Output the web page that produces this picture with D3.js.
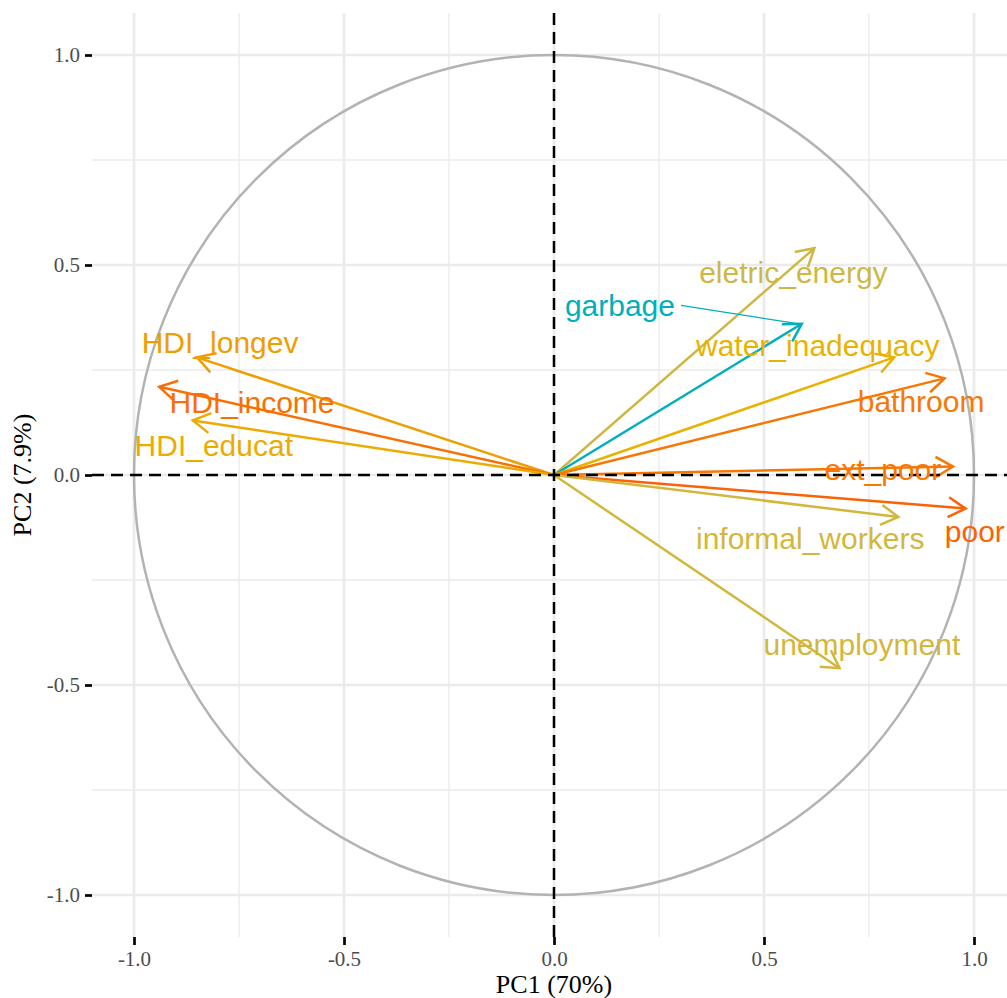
<!DOCTYPE html>
<html>
<head>
<meta charset="utf-8">
<script src="https://cdn.jsdelivr.net/npm/d3@7"></script>
<style>
  body { margin: 0; background: #fff; }
</style>
</head>
<body>
<svg id="chart" width="1007" height="998"></svg>
<script>
// loadings on the first two components
var variables = ['eletric_energy', 'garbage', 'water_inadequacy', 'bathroom', 'ext_poor',
  'poor', 'informal_workers', 'unemployment', 'HDI_longev', 'HDI_income', 'HDI_educat'];
var pc1 = [0.62, 0.59, 0.81, 0.93, 0.95, 0.98, 0.82, 0.68, -0.85, -0.94, -0.86];
var pc2 = [0.54, 0.36, 0.28, 0.23, 0.02, -0.08, -0.10, -0.46, 0.28, 0.21, 0.13];
var cos2 = [0.67, 0.48, 0.74, 0.91, 0.91, 0.96, 0.68, 0.68, 0.80, 0.93, 0.76];
// where the (repelled) labels ended up
var labelX = [0.57, 0.157, 0.628, 0.874, 0.783, 1.002, 0.61, 0.733, -0.795, -0.719, -0.81];
var labelY = [0.482, 0.404, 0.309, 0.176, 0.012, -0.135, -0.15, -0.404, 0.316, 0.173, 0.071];

var majorTicks = [-1, -0.5, 0, 0.5, 1];
var minorTicks = [-0.75, -0.25, 0.25, 0.75];
var tickLabels = ['-1.0', '-0.5', '0.0', '0.5', '1.0'];
var gradientCols = ['#00AFBB', '#E7B800', '#FC4E07'];

var svg = d3.select('#chart');
var pLeft = 92, pRight = 1016, pTop = 13, pBottom = 937;

var x = d3.scaleLinear().domain([-1.1, 1.1]).range([pLeft, pRight]);
var y = d3.scaleLinear().domain([-1.1, 1.1]).range([pBottom, pTop]);

var cmin = d3.min(cos2), cmax = d3.max(cos2);
var color = d3.scaleLinear()
  .domain([cmin, (cmin + cmax) / 2, 1])
  .range(gradientCols)
  .interpolate(d3.interpolateLab);

// grid
var grid = svg.append('g');
grid.selectAll('.minx').data(minorTicks).enter().append('line')
  .attr('x1', x).attr('x2', x).attr('y1', pTop).attr('y2', pBottom)
  .attr('stroke', '#EBEBEB').attr('stroke-width', 1.4);
grid.selectAll('.miny').data(minorTicks).enter().append('line')
  .attr('y1', y).attr('y2', y).attr('x1', pLeft).attr('x2', pRight)
  .attr('stroke', '#EBEBEB').attr('stroke-width', 1.4);
grid.selectAll('.majx').data(majorTicks).enter().append('line')
  .attr('x1', x).attr('x2', x).attr('y1', pTop).attr('y2', pBottom)
  .attr('stroke', '#EBEBEB').attr('stroke-width', 2.7);
grid.selectAll('.majy').data(majorTicks).enter().append('line')
  .attr('y1', y).attr('y2', y).attr('x1', pLeft).attr('x2', pRight)
  .attr('stroke', '#EBEBEB').attr('stroke-width', 2.7);

// correlation circle
svg.append('circle')
  .attr('cx', x(0)).attr('cy', y(0)).attr('r', x(1) - x(0))
  .attr('fill', 'none').attr('stroke', '#B3B3B3').attr('stroke-width', 2.5);

// arrows
var headLen = 20, headAng = Math.PI / 6;
var arrows = svg.append('g');
variables.forEach(function(v, i) {
  var x0 = x(0), y0 = y(0), x1 = x(pc1[i]), y1 = y(pc2[i]);
  var th = Math.atan2(y1 - y0, x1 - x0);
  var a = [x1 - headLen * Math.cos(th - headAng), y1 - headLen * Math.sin(th - headAng)];
  var b = [x1 - headLen * Math.cos(th + headAng), y1 - headLen * Math.sin(th + headAng)];
  var g = arrows.append('g').attr('stroke', color(cos2[i])).attr('stroke-width', 2.5)
    .attr('fill', 'none').attr('stroke-linecap', 'butt');
  g.append('line').attr('x1', x0).attr('y1', y0).attr('x2', x1).attr('y2', y1);
  g.append('path').attr('d', 'M' + a + 'L' + [x1, y1] + 'L' + b);
});

// zero lines
svg.append('line')
  .attr('x1', pLeft).attr('x2', pRight).attr('y1', y(0)).attr('y2', y(0))
  .attr('stroke', '#000').attr('stroke-width', 2.5).attr('stroke-dasharray', '12,7');
svg.append('line')
  .attr('x1', x(0)).attr('x2', x(0)).attr('y1', pTop).attr('y2', pBottom)
  .attr('stroke', '#000').attr('stroke-width', 2.5).attr('stroke-dasharray', '12,7');

// labels
var labels = svg.append('g')
  .attr('font-family', '"Liberation Sans", Arial, sans-serif')
  .attr('font-size', 30);
variables.forEach(function(v, i) {
  var t = labels.append('text')
    .attr('x', x(labelX[i])).attr('y', y(labelY[i]))
    .attr('text-anchor', 'middle').attr('dominant-baseline', 'central')
    .attr('fill', color(cos2[i]))
    .text(v);
  // ggrepel segment when the label sits far from its arrow tip
  var bb = t.node().getBBox();
  var tx = x(pc1[i]), ty = y(pc2[i]);
  if (tx > bb.x + bb.width + 40) {
    svg.append('line')
      .attr('x1', bb.x + bb.width + 6).attr('y1', y(labelY[i]))
      .attr('x2', tx - 3).attr('y2', ty)
      .attr('stroke', color(cos2[i])).attr('stroke-width', 1.2);
  }
});

// axes
var fmt = function(d) { return tickLabels[majorTicks.indexOf(d)]; };
var yAxis = svg.append('g').attr('transform', 'translate(' + pLeft + ',0)')
  .call(d3.axisLeft(y).tickValues(majorTicks).tickFormat(fmt).tickSize(7).tickPadding(5));
var xAxis = svg.append('g').attr('transform', 'translate(0,' + pBottom + ')')
  .call(d3.axisBottom(x).tickValues(majorTicks).tickFormat(fmt).tickSize(8).tickPadding(6));
[yAxis, xAxis].forEach(function(ax) {
  ax.select('.domain').remove();
  ax.selectAll('.tick line').attr('stroke', '#000').attr('stroke-width', 2.7);
  ax.selectAll('.tick text')
    .attr('fill', '#4D4D4D')
    .attr('font-family', '"Liberation Serif", "Times New Roman", serif')
    .attr('font-size', 21);
});

svg.append('text')
  .attr('x', x(0)).attr('y', 993)
  .attr('text-anchor', 'middle')
  .attr('font-family', '"Liberation Serif", "Times New Roman", serif')
  .attr('font-size', 26)
  .text('PC1 (70%)');

svg.append('text')
  .attr('transform', 'translate(31,' + y(0) + ') rotate(-90)')
  .attr('text-anchor', 'middle')
  .attr('font-family', '"Liberation Serif", "Times New Roman", serif')
  .attr('font-size', 26)
  .text('PC2 (7.9%)');
</script>
</body>
</html>
